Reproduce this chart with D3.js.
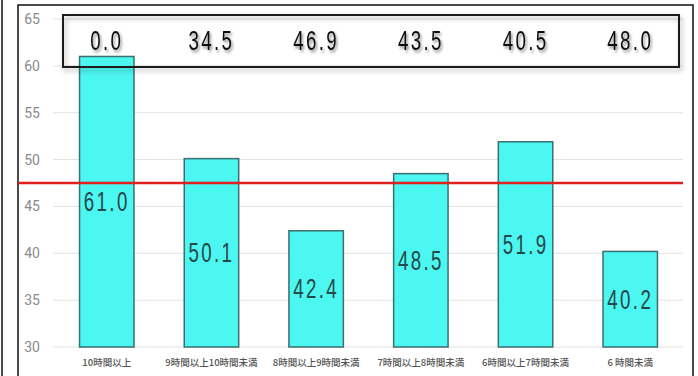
<!DOCTYPE html>
<html><head><meta charset="utf-8">
<script src="https://cdn.jsdelivr.net/npm/d3@7"></script>
<style>
html,body{margin:0;padding:0;background:#fff;}
svg{display:block;}
</style></head>
<body>
<svg id="c" width="698" height="376"></svg>
<script>
const categories = ["10時間以上","9時間以上10時間未満","8時間以上9時間未満","7時間以上8時間未満","6時間以上7時間未満","6 時間未満"];
const barValues = [61.0, 50.1, 42.4, 48.5, 51.9, 40.2];
const boxValues = ["0.0","34.5","46.9","43.5","40.5","48.0"];
const barLabels = ["61.0","50.1","42.4","48.5","51.9","40.2"];
const referenceValue = 47.5;
const yTicks = [30,35,40,45,50,55,60,65];

const svg = d3.select("#c");
const defs = svg.append("defs");
const f = defs.append("filter").attr("id","sh").attr("x","-20%").attr("y","-50%").attr("width","140%").attr("height","200%");
f.append("feDropShadow").attr("dx",2).attr("dy",2).attr("stdDeviation",1.6).attr("flood-color","#000").attr("flood-opacity",0.45);
const f2 = defs.append("filter").attr("id","bsh").attr("x","-5%").attr("y","-30%").attr("width","110%").attr("height","160%");
f2.append("feDropShadow").attr("dx",2).attr("dy",3).attr("stdDeviation",2.5).attr("flood-color","#000").attr("flood-opacity",0.3);

const y = d3.scaleLinear().domain([30,65]).range([347,19]);
const x = d3.scaleBand().domain(categories).range([54,683]).paddingInner(0.48).paddingOuter(0.244);

// frame lines
svg.append("line").attr("x1",2).attr("x2",2).attr("y1",0).attr("y2",376).attr("stroke","#111").attr("stroke-width",1.5);
svg.append("path").attr("d","M18,376 V5 H693 V376").attr("fill","none").attr("stroke","#111").attr("stroke-width",1.5);

// grid
svg.append("g").selectAll("line").data(yTicks).join("line")
  .attr("x1",53).attr("x2",683).attr("y1",d=>y(d)).attr("y2",d=>y(d))
  .attr("stroke","#e2e2e2").attr("stroke-width",1);

// y axis labels
const yAxis = d3.axisLeft(y).tickValues(yTicks).tickSize(0).tickPadding(0);
const ga = svg.append("g").attr("transform","translate(40,0)").call(yAxis);
ga.select(".domain").remove();
ga.selectAll("text").attr("font-family","Roboto, 'Open Sans', sans-serif").attr("font-size",14).attr("fill","#8a8a8a");

// bars
svg.append("g").selectAll("rect").data(barValues).join("rect")
  .attr("x",(d,i)=>x(categories[i])).attr("width",x.bandwidth())
  .attr("y",d=>y(d)).attr("height",d=>y(30)-y(d))
  .attr("fill","#4cf6f1").attr("stroke","#3b6f70").attr("stroke-width",1.5);

// x labels
svg.append("g").selectAll("text").data(categories).join("text")
  .attr("x",d=>x(d)+x.bandwidth()/2).attr("y",362)
  .attr("text-anchor","middle").attr("dominant-baseline","central")
  .attr("font-family","'Noto Sans CJK JP', sans-serif").attr("font-size",9.5).attr("font-weight",500)
  .attr("fill","#555").text(d=>d);

// reference line
svg.append("line").attr("x1",18).attr("x2",683).attr("y1",y(referenceValue)).attr("y2",y(referenceValue))
  .attr("stroke","#e01f1f").attr("stroke-width",2.5);

const numFont = "'Liberation Sans', Arial, sans-serif";
// bar labels
svg.append("g").selectAll("text").data(barLabels).join("text")
  .attr("transform",(d,i)=>{
    const cx = x(categories[i])+x.bandwidth()/2;
    const cy = (y(barValues[i])+y(30))/2;
    return `translate(${cx},${cy}) scale(0.78,1.14)`;
  })
  .attr("text-anchor","middle").attr("dominant-baseline","central")
  .attr("font-family",numFont).attr("font-size",24).attr("letter-spacing",3)
  .attr("fill","#274848").text(d=>d);

// top box
svg.append("rect").attr("x",63).attr("y",15).attr("width",616).attr("height",52)
  .attr("fill","none").attr("stroke","#1a1a1a").attr("stroke-width",2).attr("filter","url(#bsh)");
svg.append("g").selectAll("text").data(boxValues).join("text")
  .attr("transform",(d,i)=>`translate(${x(categories[i])+x.bandwidth()/2},41) scale(0.78,1.14)`)
  .attr("text-anchor","middle").attr("dominant-baseline","central")
  .attr("font-family",numFont).attr("font-size",24).attr("letter-spacing",3)
  .attr("fill","#111").attr("filter","url(#sh)").text(d=>d);
</script>
</body></html>
